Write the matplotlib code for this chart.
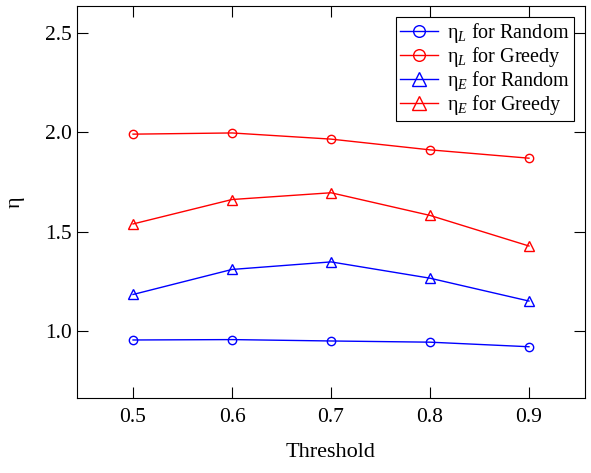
import matplotlib.pyplot as plt

plt.rcParams['font.family'] = ['Liberation Serif', 'DejaVu Serif']
plt.rcParams['mathtext.fontset'] = 'custom'
plt.rcParams['mathtext.rm'] = 'Liberation Serif'
plt.rcParams['mathtext.it'] = 'Liberation Serif:italic'

# Data
threshold = [0.5, 0.6, 0.7, 0.8, 0.9]
eta_l_random = [0.955, 0.957, 0.950, 0.944, 0.921]
eta_l_greedy = [1.991, 1.997, 1.966, 1.912, 1.870]
eta_e_random = [1.184, 1.310, 1.348, 1.266, 1.151]
eta_e_greedy = [1.539, 1.662, 1.696, 1.582, 1.428]

fig = plt.figure(figsize=(5.91, 4.73), dpi=100)
ax = fig.add_axes([77 / 591, 75 / 473, 508 / 591, 392 / 473])

style = dict(lw=1.0, mfc='none', mew=1.0)
ax.plot(threshold, eta_l_random, '-o', c='blue', ms=6, label=r'$\mathrm{η}_{L}$ for Random', **style)
ax.plot(threshold, eta_l_greedy, '-o', c='red', ms=6, label=r'$\mathrm{η}_{L}$ for Greedy', **style)
ax.plot(threshold, eta_e_random, '-^', c='blue', ms=7, label=r'$\mathrm{η}_{E}$ for Random', **style)
ax.plot(threshold, eta_e_greedy, '-^', c='red', ms=7, label=r'$\mathrm{η}_{E}$ for Greedy', **style)

ax.set_xlim(0.4434, 0.9566)
ax.set_ylim(0.663, 2.636)
ax.set_xticks(threshold)
ax.set_yticks([1.0, 1.5, 2.0, 2.5])
ax.tick_params(direction='in', length=8, width=0.8, top=True, right=True,
               labelsize=15.5)
ax.tick_params(axis='x', pad=7)
ax.tick_params(axis='y', pad=4)
ax.set_xlabel('Threshold', fontsize=16, labelpad=12)
ax.set_ylabel('η', fontsize=16, labelpad=14)

leg = ax.legend(loc='upper right', fontsize=14.5, fancybox=False, edgecolor='black',
                framealpha=1, handlelength=1.85, borderaxespad=0.55, markerscale=1.4,
                labelspacing=0.0, borderpad=0.2, handletextpad=0.45)
leg.get_frame().set_linewidth(0.8)

fig.savefig('out.png', dpi=100)
